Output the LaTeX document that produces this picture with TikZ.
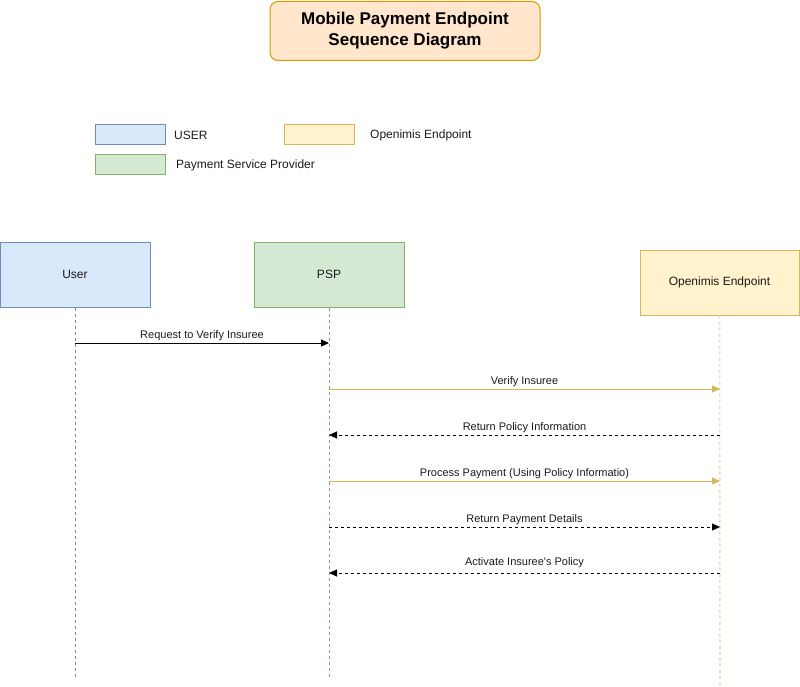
\documentclass[tikz,border=0pt]{standalone}
\usepackage{fontspec}
\setmainfont{Liberation Sans}
\usetikzlibrary{arrows.meta}
\definecolor{titlefill}{HTML}{FFE6CC}
\definecolor{titledraw}{HTML}{D79B00}
\definecolor{bluefill}{HTML}{DAE8FC}
\definecolor{bluedraw}{HTML}{6C8EBF}
\definecolor{greenfill}{HTML}{D5E8D4}
\definecolor{greendraw}{HTML}{82B366}
\definecolor{yelfill}{HTML}{FFF2CC}
\definecolor{yeldraw}{HTML}{D6B656}
\definecolor{txt}{HTML}{1A1A1A}
\tikzset{
  boxsty/.style={draw, line width=1pt, inner sep=0pt, text=txt,
    font=\fontsize{12}{14}\selectfont, align=center},
  legtext/.style={anchor=west, inner sep=0pt, text=txt, font=\fontsize{12}{14}\selectfont},
  lifeline/.style={line width=0.8pt, dash pattern=on 3pt off 3pt},
  msg/.style={line width=1pt, -{Triangle[length=8pt,width=7pt]}},
  msgdash/.style={msg, dash pattern=on 3pt off 3pt},
  msglabel/.style={inner sep=0pt, text=txt, font=\fontsize{11}{13}\selectfont},
}
\begin{document}
\begin{tikzpicture}[x=1pt,y=-1pt]
\useasboundingbox (0,0) rectangle (800,687);
% title
\node[boxsty, fill=titlefill, draw=titledraw, rounded corners=8pt,
  minimum width=270pt, minimum height=59pt, text=black, font=\fontsize{17}{21}\selectfont\bfseries]
  (title) at (405,31) {Mobile Payment Endpoint\\Sequence Diagram};
% legend
\node[boxsty, fill=bluefill, draw=bluedraw, minimum width=70pt, minimum height=20pt] (legU) at (130,135) {};
\node[legtext] (legUt) at (174,135) {USER};
\node[boxsty, fill=yelfill, draw=yeldraw, minimum width=70pt, minimum height=20pt] (legO) at (319.5,135) {};
\node[legtext] (legOt) at (370,135) {Openimis Endpoint};
\node[boxsty, fill=greenfill, draw=greendraw, minimum width=70pt, minimum height=20pt] (legP) at (130,165) {};
\node[legtext] (legPt) at (176,165) {Payment Service Provider};
% participants
\node[boxsty, fill=bluefill, draw=bluedraw, minimum width=150pt, minimum height=65pt] (user) at (75,274.5) {User};
\node[boxsty, fill=greenfill, draw=greendraw, minimum width=150pt, minimum height=65pt] (psp) at (329,274.5) {PSP};
\node[boxsty, fill=yelfill, draw=yeldraw, minimum width=159pt, minimum height=65pt] (ope) at (719.5,282.5) {Openimis Endpoint};
% lifeline ends
\coordinate (uend) at (75,677);
\coordinate (pend) at (329,677);
\coordinate (oend) at (720,685);
\draw[lifeline, draw=bluedraw!80!gray] (user.south) -- (uend);
\draw[lifeline, draw=greendraw!70!gray] (psp.south) -- (pend);
\draw[lifeline, draw=yeldraw!45!white, line width=1.6pt] (ope.south) -- (oend);
% message points
\coordinate (u1) at (75,343);  \coordinate (p1) at (329,343);
\coordinate (p2) at (329,389); \coordinate (o2) at (720,389);
\coordinate (p3) at (329,435); \coordinate (o3) at (720,435);
\coordinate (p4) at (329,481); \coordinate (o4) at (720,481);
\coordinate (p5) at (329,527); \coordinate (o5) at (720,527);
\coordinate (p6) at (329,573); \coordinate (o6) at (720,573);
% messages
\draw[msg, draw=black] (u1) -- (p1)
  node[msglabel, midway, yshift=7.5pt] (m1) {Request to Verify Insuree};
\draw[msg, draw=yeldraw, -{Triangle[length=8pt,width=7pt,fill=yeldraw]}] (p2) -- (o2)
  node[msglabel, midway, yshift=7.5pt] (m2) {Verify Insuree};
\draw[msgdash, draw=black] (o3) -- (p3)
  node[msglabel, midway, yshift=7.5pt] (m3) {Return Policy Information};
\draw[msg, draw=yeldraw, -{Triangle[length=8pt,width=7pt,fill=yeldraw]}] (p4) -- (o4)
  node[msglabel, midway, yshift=7.5pt] (m4) {Process Payment (Using Policy Informatio)};
\draw[msgdash, draw=black] (p5) -- (o5)
  node[msglabel, midway, yshift=7.5pt] (m5) {Return Payment Details};
\draw[msgdash, draw=black] (o6) -- (p6)
  node[msglabel, midway, yshift=10.5pt] (m6) {Activate Insuree\textquotesingle s Policy};
\end{tikzpicture}
\end{document}
